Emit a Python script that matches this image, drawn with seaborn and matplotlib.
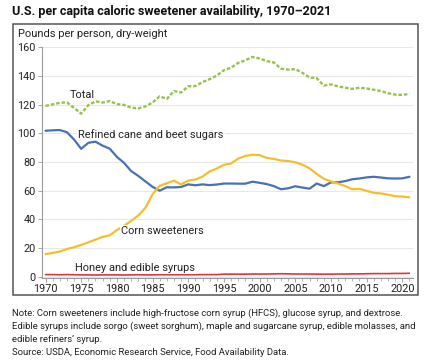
import numpy as np
import pandas as pd
import seaborn as sns
import matplotlib.pyplot as plt
from matplotlib.patches import Rectangle
from matplotlib.ticker import MultipleLocator

# Pounds per person, dry weight
years = list(range(1970, 2022))

refined_sugar = [101.8, 102.1, 102.3, 100.8, 95.7, 89.2, 93.4, 94.2, 91.4, 89.3,
                 83.6, 79.4, 73.7, 70.3, 66.5, 62.7, 60.0, 62.4, 62.3, 62.6,
                 64.4, 63.8, 64.4, 63.9, 64.3, 65.0, 65.0, 64.9, 64.9, 66.3,
                 65.5, 64.6, 63.2, 61.0, 61.7, 63.1, 62.2, 61.4, 65.0, 63.2,
                 65.8, 65.9, 66.7, 68.0, 68.5, 69.3, 69.7, 69.2, 68.6, 68.5,
                 68.6, 69.7]

corn_sweeteners = [15.8, 16.6, 17.6, 19.3, 20.6, 22.2, 24.0, 25.9, 27.8, 28.9,
                   32.5, 35.6, 38.9, 42.7, 48.0, 57.5, 63.4, 65.2, 67.0, 64.4,
                   67.0, 67.8, 69.8, 73.4, 75.5, 78.0, 79.0, 82.4, 84.2, 85.1,
                   84.8, 82.9, 82.2, 81.0, 80.7, 79.8, 78.1, 75.6, 71.7, 68.3,
                   66.5, 65.0, 63.2, 61.0, 61.3, 59.9, 58.5, 58.1, 57.2, 56.2,
                   55.9, 55.4]

honey_syrups = [1.5, 1.5, 1.4, 1.5, 1.4, 1.3, 1.3, 1.2, 1.3, 1.3,
                1.3, 1.2, 1.3, 1.4, 1.3, 1.3, 1.4, 1.4, 1.4, 1.4,
                1.4, 1.4, 1.5, 1.5, 1.5, 1.8, 1.8, 1.8, 1.8, 1.9,
                1.9, 1.9, 2.0, 2.1, 2.0, 1.9, 1.9, 1.9, 1.8, 1.8,
                1.8, 1.9, 1.9, 2.0, 2.0, 2.1, 2.2, 2.2, 2.2, 2.3,
                2.3, 2.4]

total = [119.1, 120.2, 121.3, 121.6, 117.7, 113.7, 119.7, 122.3, 121.5, 122.5,
         120.4, 119.8, 117.9, 117.4, 118.8, 121.5, 125.8, 124.0, 129.5, 128.5,
         132.8, 133.0, 135.7, 137.8, 140.3, 144.0, 145.8, 149.1, 150.9, 153.3,
         152.2, 150.4, 149.4, 145.1, 144.4, 144.8, 142.2, 138.9, 138.5, 133.3,
         134.1, 132.8, 131.8, 131.0, 131.8, 131.3, 130.4, 129.5, 128.0, 127.0,
         126.8, 127.5]

df = pd.DataFrame({"year": years, "Total": total,
                   "Refined cane and beet sugars": refined_sugar,
                   "Corn sweeteners": corn_sweeteners,
                   "Honey and edible syrups": honey_syrups})

sns.set_style("white")
plt.rcParams["font.family"] = ["Roboto", "DejaVu Sans"]

fig = plt.figure(figsize=(4.28, 3.61), dpi=100)
ax = fig.add_axes([0.098, 0.231, 0.867, 0.638])

sns.lineplot(data=df, x="year", y="Total", ax=ax, color="#97c24d",
             linewidth=1.7, linestyle=(0, (1.5, 0.8)))
sns.lineplot(data=df, x="year", y="Refined cane and beet sugars", ax=ax,
             color="#4a70b5", linewidth=1.6)
sns.lineplot(data=df, x="year", y="Corn sweeteners", ax=ax,
             color="#f3bf2c", linewidth=1.6)
sns.lineplot(data=df, x="year", y="Honey and edible syrups", ax=ax,
             color="#d8383f", linewidth=1.2)

ax.set_xlim(1969.5, 2021.5)
ax.set_ylim(-0.6, 160)
ax.set_yticks(range(0, 161, 20))
ax.xaxis.set_major_locator(MultipleLocator(5))
ax.xaxis.set_minor_locator(MultipleLocator(1))
ax.set_xlabel("")
ax.set_ylabel("")
ax.grid(axis="y", color="#e8e8e8", linewidth=0.8)
ax.set_axisbelow(True)
for s in ["top", "right"]:
    ax.spines[s].set_visible(False)
for s in ["left", "bottom"]:
    ax.spines[s].set_color("#9a9a9a")
    ax.spines[s].set_linewidth(0.8)
ax.tick_params(axis="both", which="major", labelsize=7.8, colors="#222222",
               length=3, width=0.6, color="#9a9a9a", pad=1.5, direction="out")
ax.tick_params(axis="x", which="minor", length=2, width=0.5, color="#9a9a9a",
               direction="out")
ax.tick_params(axis="x", which="both", bottom=True)
ax.tick_params(axis="y", which="major", left=True)

lab = dict(fontsize=7.9, color="#222222", va="center")
box = dict(facecolor="white", edgecolor="none", pad=0.6)
ax.text(1975.1, 127.0, "Total", ha="center", **lab)
ax.text(1974.6, 99.5, "Refined cane and beet sugars", ha="left", bbox=box, **lab)
ax.text(1980.6, 32.0, "Corn sweeteners", ha="left", bbox=box, **lab)
ax.text(1974.1, 6.2, "Honey and edible syrups", ha="left", bbox=box, **lab)

# frame around the chart area
fig.patches.append(Rectangle((12.5 / 428, 1 - 295 / 361), 405 / 428, 271 / 361,
                             transform=fig.transFigure, fill=False,
                             edgecolor="#555555", linewidth=1.1))

fig.text(12 / 428, 1 - 12 / 361,
         "U.S. per capita caloric sweetener availability, 1970\u20132021",
         fontsize=9.0, fontweight="bold", color="#111111", va="center")
fig.text(18 / 428, 1 - 34 / 361, "Pounds per person, dry-weight",
         fontsize=8.0, color="#222222", va="center")

notes = ["Note: Corn sweeteners include high-fructose corn syrup (HFCS), glucose syrup, and dextrose.",
         "Edible syrups include sorgo (sweet sorghum), maple and sugarcane syrup, edible molasses, and",
         "edible refiners\u2019 syrup.",
         "Source: USDA, Economic Research Service, Food Availability Data."]
for i, line in enumerate(notes):
    fig.text(12 / 428, 1 - (313 + i * 13.3) / 361, line, fontsize=6.8,
             color="#222222", va="center")

fig.savefig("out.png", dpi=100)
